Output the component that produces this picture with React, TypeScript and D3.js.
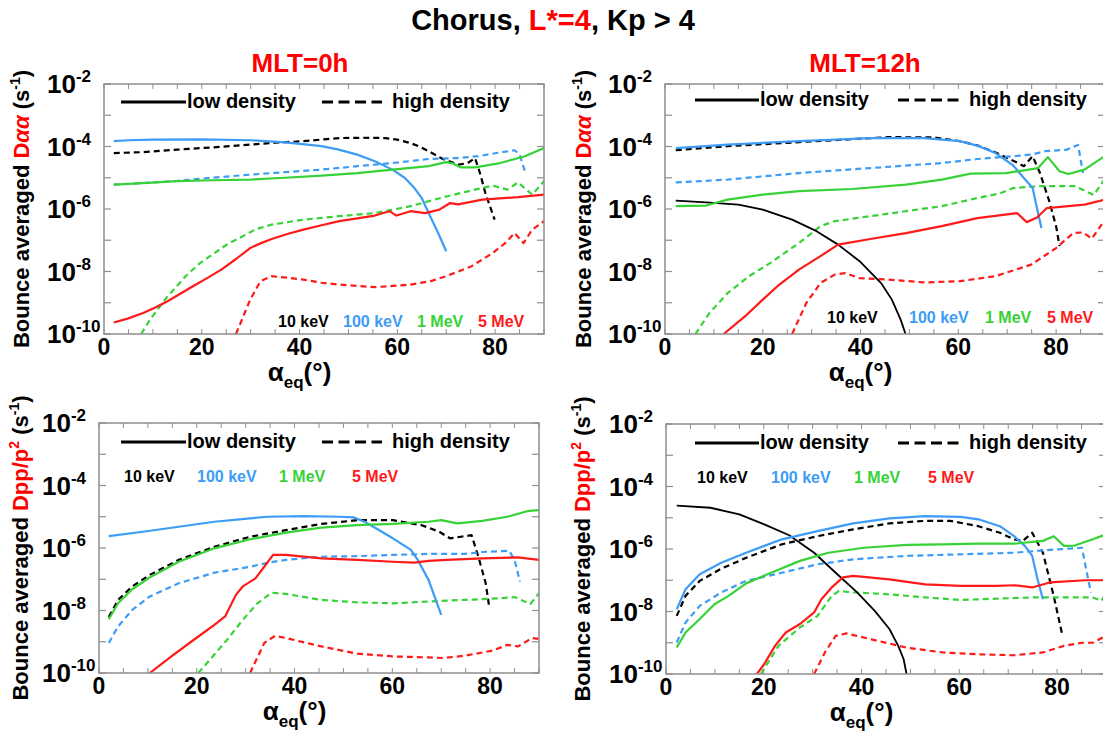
import React from "react";
import * as d3 from "d3";

// pitch angle ticks and log10 decade ticks
const xTicks = [0, 20, 40, 60, 80];
const xMinorTicks = d3.range(0, 91, 5);
const yLabelExp = [-2, -4, -6, -8, -10];
const yDecades = d3.range(-10, -1, 1);
const energies = ["10 keV", "100 keV", "1 MeV", "5 MeV"];
const energyColors = ["#000000", "#3d9cf5", "#37d237", "#ff1a1a"];

// each series: [alpha_eq (deg), log10 of bounce averaged coefficient (s^-1)]
// MLT = 0h, D_aa
const daa0BlueLow = [[2,-3.83],[5,-3.8],[10,-3.78],[20,-3.77],[30,-3.8],[37,-3.87],[41.6,-3.94],[44.5,-3.99],[48,-4.1],[51.8,-4.26],[55.4,-4.47],[59,-4.74],[61.5,-5.0],[63.5,-5.33],[65,-5.65],[66.4,-6.13],[68.3,-6.75],[70,-7.35]];
const daa0BlackHigh = [[2,-4.21],[8,-4.18],[15,-4.1],[22,-4.03],[29.9,-3.94],[35,-3.88],[40.8,-3.83],[45,-3.77],[48.1,-3.73],[53,-3.72],[57.6,-3.73],[60,-3.78],[62.7,-3.89],[64.5,-4.0],[66.4,-4.15],[69.3,-4.4],[72.6,-4.58],[74.4,-4.53],[75.9,-4.37],[77,-4.9],[78,-5.49],[79.9,-6.34]];
const daa0GreenLow = [[2,-5.22],[8,-5.17],[15,-5.11],[22,-5.08],[30,-5.06],[37,-5.0],[44.5,-4.93],[51.8,-4.85],[59,-4.74],[66.4,-4.63],[70,-4.5],[71.5,-4.55],[73,-4.67],[75.9,-4.67],[81,-4.53],[86.1,-4.31],[90,-4.05]];
const daa0BlueHigh = [[2,-5.22],[8,-5.17],[15,-5.1],[22,-5.0],[30,-4.9],[37,-4.82],[44.5,-4.74],[51.8,-4.63],[59,-4.53],[66.4,-4.4],[72.2,-4.37],[76.6,-4.31],[81,-4.19],[84,-4.12],[85,-4.26],[86.1,-4.79]];
const daa0GreenHigh = [[7.6,-10],[9.4,-9.54],[13,-8.8],[16.7,-8.15],[19.5,-7.75],[22.6,-7.41],[25.5,-7.1],[28.4,-6.87],[31,-6.65],[34.3,-6.5],[40.8,-6.34],[48.1,-6.23],[55.4,-6.13],[62.7,-5.91],[70,-5.6],[75.9,-5.38],[79.5,-5.25],[82.5,-5.38],[84.7,-5.15],[87.6,-5.54],[90,-5.11]];
const daa0RedLow = [[2,-9.63],[5,-9.5],[8,-9.33],[10.5,-9.15],[13,-8.95],[15.5,-8.72],[18.2,-8.47],[21,-8.22],[24,-7.94],[27,-7.6],[29.9,-7.25],[32,-7.1],[34.3,-6.96],[37.5,-6.8],[40.8,-6.66],[44.5,-6.52],[48.1,-6.39],[51.8,-6.3],[55.4,-6.21],[58.4,-6.07],[59.8,-6.21],[62.7,-6.07],[65.7,-6.13],[68.6,-6.02],[70.8,-5.81],[72.5,-5.85],[73.7,-5.81],[77.4,-5.7],[84.7,-5.62],[90,-5.54]];
const daa0RedHigh = [[27,-10],[29.9,-8.9],[32,-8.31],[34.3,-8.15],[37.5,-8.2],[40.8,-8.26],[44.5,-8.36],[48.1,-8.42],[55.4,-8.5],[62.7,-8.42],[67,-8.3],[70,-8.15],[75.2,-7.83],[79.5,-7.41],[82,-7.1],[84,-6.77],[85.8,-7.09],[87.6,-6.66],[90,-6.39]];

// MLT = 12h, D_aa
const daa12BlackLow = [[2.2,-5.73],[8.4,-5.79],[15,-5.86],[20,-6.02],[26,-6.34],[31,-6.71],[35.4,-7.14],[39.8,-7.67],[44.2,-8.37],[46.4,-8.9],[48.2,-9.54],[49.2,-10]];
const daa12BlueLow = [[2.2,-4.05],[12.8,-3.94],[27.4,-3.83],[42,-3.73],[53,-3.73],[60.3,-3.83],[64,-3.98],[67.6,-4.21],[71.2,-4.6],[73.4,-5.01],[75.2,-5.33],[76.3,-6.13],[77,-6.61]];
const daa12BlackHigh = [[2.2,-4.12],[12.8,-3.99],[27.4,-3.86],[45.7,-3.7],[55,-3.71],[60.3,-3.83],[64,-3.97],[67.6,-4.19],[72.2,-4.53],[73.4,-4.63],[75.2,-4.31],[76.7,-4.85],[78.5,-5.7],[80,-6.55],[80.7,-7.19]];
const daa12GreenLow = [[2.2,-5.91],[8.4,-5.89],[12.8,-5.7],[20,-5.54],[27.4,-5.43],[38.3,-5.36],[49.3,-5.22],[56.6,-5.06],[62.5,-4.87],[69.8,-4.85],[76.3,-4.69],[78.3,-4.34],[80.7,-4.79],[82.5,-4.88],[85.8,-4.74],[90,-4.3]];
const daa12BlueHigh = [[2.2,-5.15],[12.8,-5.06],[27.4,-4.85],[42,-4.69],[56.6,-4.53],[63.9,-4.4],[71.2,-4.31],[74.9,-4.26],[77.8,-4.15],[82.2,-4.1],[84.5,-3.95],[85.5,-4.85]];
const daa12GreenHigh = [[6.2,-10],[9.1,-9.33],[12.8,-8.69],[17.2,-8.15],[21.5,-7.73],[27.4,-7.09],[31.8,-6.55],[34.7,-6.39],[42,-6.23],[49.3,-6.07],[56.6,-5.91],[63.9,-5.65],[68.5,-5.5],[71.2,-5.33],[76.7,-5.27],[83.9,-5.27],[87.7,-5.55],[89.8,-5.07]];
const daa12RedLow = [[12,-10],[16.4,-9.43],[20,-8.9],[23,-8.47],[27.4,-7.94],[31.8,-7.51],[35.4,-7.14],[42,-6.96],[49.3,-6.77],[56.6,-6.55],[63.9,-6.29],[72,-6.13],[74,-6.42],[76.1,-6.27],[78.1,-5.97],[85.8,-5.86],[90,-5.7]];
const daa12RedHigh = [[26,-10],[28.9,-9.01],[31.8,-8.37],[34.7,-8.1],[36.9,-8.05],[39.8,-8.21],[45.7,-8.26],[53,-8.35],[60.3,-8.31],[67.6,-8.15],[74.9,-7.78],[80,-7.25],[83.5,-6.77],[85.5,-6.75],[87.3,-6.95],[90,-6.34]];

// MLT = 0h, D_pp/p^2
const dpp0BlueLow = [[2,-5.62],[9,-5.48],[16.3,-5.32],[23.6,-5.16],[30.9,-5.05],[34.5,-5.0],[41.9,-4.98],[49.2,-5.0],[52.1,-5.02],[54.3,-5.16],[57,-5.4],[60.1,-5.69],[63.8,-6.06],[65.2,-6.38],[67.4,-7.02],[70,-8.14]];
const dpp0BlackHigh = [[2,-8.21],[3.9,-7.66],[6.8,-7.23],[10.4,-6.86],[16.3,-6.38],[23.6,-5.96],[30.9,-5.64],[38.2,-5.43],[45.5,-5.23],[52.8,-5.11],[60.1,-5.11],[66,-5.27],[69.6,-5.48],[71.8,-5.69],[74,-5.64],[76.2,-5.59],[77.6,-6.28],[79.1,-7.13],[79.8,-7.87]];
const dpp0GreenLow = [[2,-8.28],[3.9,-7.77],[6.8,-7.32],[10.4,-6.94],[16.3,-6.44],[23.6,-6.01],[30.9,-5.72],[38.2,-5.51],[45.5,-5.35],[52.8,-5.27],[60.1,-5.23],[67.4,-5.16],[70,-5.11],[73.3,-5.21],[78.4,-5.13],[83.5,-5.0],[87.9,-4.81],[90,-4.79]];
const dpp0BlueHigh = [[2,-9.04],[3.9,-8.51],[6.8,-7.98],[10.4,-7.55],[16.3,-7.13],[23.6,-6.79],[30.9,-6.6],[34.5,-6.47],[38.2,-6.38],[45.5,-6.28],[52.8,-6.26],[60.1,-6.22],[67.4,-6.19],[74.7,-6.19],[79.1,-6.12],[83.9,-6.09],[85,-6.38],[86.1,-7.07]];
const dpp0RedLow = [[10.4,-10],[14.8,-9.47],[19.9,-8.88],[23.6,-8.46],[25.8,-8.19],[28,-7.5],[29.4,-7.23],[32,-6.97],[33.8,-6.6],[35.6,-6.22],[38.2,-6.22],[45.5,-6.33],[52.8,-6.38],[60.1,-6.44],[64.5,-6.47],[67.4,-6.41],[71.1,-6.38],[78.4,-6.33],[85.7,-6.3],[90,-6.38]];
const dpp0GreenHigh = [[20.3,-10],[23.6,-9.41],[26.5,-8.88],[29.4,-8.3],[32.4,-7.77],[35.3,-7.43],[38.2,-7.47],[45.5,-7.66],[52.8,-7.74],[60.1,-7.77],[67.4,-7.71],[74.7,-7.66],[82,-7.61],[85,-7.57],[88.2,-7.79],[90,-7.45]];
const dpp0RedHigh = [[30.9,-10],[33.8,-9.04],[36,-8.81],[38.2,-8.88],[45.5,-9.15],[52.8,-9.38],[60.1,-9.47],[67.4,-9.5],[70.3,-9.52],[74.7,-9.45],[80.6,-9.28],[83.5,-9.1],[85.7,-9.15],[88.6,-8.88],[90,-8.91]];

// MLT = 12h, D_pp/p^2
const dpp12BlackLow = [[2.2,-4.61],[9.1,-4.68],[15,-4.89],[20.1,-5.21],[25.2,-5.56],[30.3,-6.12],[34.7,-6.76],[39.1,-7.39],[42.7,-7.98],[45.7,-8.56],[47.5,-9.1],[48.6,-9.52],[49.2,-10]];
const dpp12BlueLow = [[2.2,-7.93],[4,-7.29],[6.9,-6.81],[11.3,-6.44],[16.4,-6.12],[23.7,-5.69],[31,-5.43],[38.3,-5.18],[45.7,-5.02],[53,-4.95],[60.3,-4.97],[63.9,-5.05],[68.3,-5.27],[71.2,-5.59],[73.4,-5.9],[74.9,-6.22],[76,-6.97],[77.1,-7.61]];
const dpp12BlackHigh = [[2.2,-8.14],[4,-7.5],[6.9,-7.02],[11.3,-6.63],[16.4,-6.28],[23.7,-5.85],[31,-5.59],[38.3,-5.37],[45.7,-5.18],[53,-5.1],[58.1,-5.1],[63.9,-5.27],[68.3,-5.48],[71.2,-5.69],[73,-5.74],[74.9,-5.48],[77.1,-6.12],[79.3,-7.5],[81.1,-8.78]];
const dpp12GreenLow = [[2.2,-9.15],[4,-8.67],[6.9,-8.24],[9.9,-7.77],[12.8,-7.5],[16.4,-7.1],[21.5,-6.76],[27.4,-6.38],[33.2,-6.12],[40.5,-5.96],[49.3,-5.87],[56.6,-5.85],[63.9,-5.83],[71.2,-5.83],[77.1,-5.74],[79.3,-5.59],[81.4,-5.9],[83.6,-5.89],[87.3,-5.69],[90,-5.53]];
const dpp12BlueHigh = [[2.2,-8.99],[4,-8.35],[6.9,-7.82],[11.3,-7.39],[16.4,-7.02],[23.7,-6.76],[31,-6.49],[38.3,-6.33],[49.3,-6.22],[60.3,-6.17],[71.2,-6.12],[78.5,-6.03],[85.1,-5.96],[85.8,-6.54],[86.9,-7.39]];
const dpp12RedLow = [[18.6,-10],[20.1,-9.68],[22.3,-9.1],[24.5,-8.67],[27.4,-8.4],[30.3,-8.03],[31.8,-7.61],[33.9,-7.23],[36.2,-6.91],[38.3,-6.86],[45.7,-6.97],[53,-7.13],[60.3,-7.18],[67.6,-7.18],[71.2,-7.16],[74.9,-7.23],[78.5,-7.07],[85.8,-7.0],[90,-7.0]];
const dpp12GreenHigh = [[19.4,-10],[23,-9.1],[27.4,-8.51],[31,-8.14],[33.9,-7.5],[35.4,-7.34],[38.3,-7.39],[45.7,-7.45],[53,-7.55],[60.3,-7.63],[67.6,-7.59],[74.9,-7.55],[82.2,-7.55],[87.3,-7.55],[89.1,-7.66],[90,-7.39]];
const dpp12RedHigh = [[30.3,-10],[32.5,-9.31],[34.7,-8.78],[36.9,-8.7],[42,-8.89],[49.3,-9.16],[56.6,-9.31],[63.9,-9.37],[71.2,-9.4],[77.1,-9.31],[81.4,-9.1],[85.1,-9.0],[87.3,-9.0],[90,-8.78]];

const FONT = "'Liberation Sans', Arial, Helvetica, sans-serif";
const GRAY = "#8e8e8e";
const W = 440;
const H = 250;

// color index into energyColors, dashed = high density
const panels = [
  {
    id: "p1", left: 104, top: 84, kind: "daa", mlt: "MLT=0h", mltX: 300,
    ytitleX: 29,
    legend: { solid: [17, 82], dashed: [218, 278], lineDy: 18 },
    energyX: [174, 239, 313, 374], energyDy: 243,
    curves: [
      { d: daa0BlackHigh, c: 0, dash: true },
      { d: daa0BlueHigh, c: 1, dash: true },
      { d: daa0GreenHigh, c: 2, dash: true },
      { d: daa0RedHigh, c: 3, dash: true },
      { d: daa0BlueLow, c: 1, dash: false },
      { d: daa0GreenLow, c: 2, dash: false },
      { d: daa0RedLow, c: 3, dash: false },
    ],
  },
  {
    id: "p2", left: 665, top: 84, kind: "daa", mlt: "MLT=12h", mltX: 865,
    ytitleX: 591,
    legend: { solid: [30, 94], dashed: [233, 294], lineDy: 16 },
    energyX: [162, 244, 320, 382], energyDy: 239,
    curves: [
      { d: daa12BlackHigh, c: 0, dash: true },
      { d: daa12BlueHigh, c: 1, dash: true },
      { d: daa12GreenHigh, c: 2, dash: true },
      { d: daa12RedHigh, c: 3, dash: true },
      { d: daa12BlackLow, c: 0, dash: false },
      { d: daa12BlueLow, c: 1, dash: false },
      { d: daa12GreenLow, c: 2, dash: false },
      { d: daa12RedLow, c: 3, dash: false },
    ],
  },
  {
    id: "p3", left: 99, top: 423, kind: "dpp", mlt: null, mltX: 0,
    ytitleX: 28,
    legend: { solid: [22, 87], dashed: [223, 283], lineDy: 19 },
    energyX: [25, 98, 180, 253], energyDy: 59,
    curves: [
      { d: dpp0BlackHigh, c: 0, dash: true },
      { d: dpp0BlueHigh, c: 1, dash: true },
      { d: dpp0GreenHigh, c: 2, dash: true },
      { d: dpp0RedHigh, c: 3, dash: true },
      { d: dpp0BlueLow, c: 1, dash: false },
      { d: dpp0GreenLow, c: 2, dash: false },
      { d: dpp0RedLow, c: 3, dash: false },
    ],
  },
  {
    id: "p4", left: 666, top: 424, kind: "dpp", mlt: null, mltX: 0,
    ytitleX: 590,
    legend: { solid: [29, 93], dashed: [232, 293], lineDy: 19 },
    energyX: [31, 105, 188, 262], energyDy: 59,
    curves: [
      { d: dpp12BlackHigh, c: 0, dash: true },
      { d: dpp12BlueHigh, c: 1, dash: true },
      { d: dpp12GreenHigh, c: 2, dash: true },
      { d: dpp12RedHigh, c: 3, dash: true },
      { d: dpp12BlackLow, c: 0, dash: false },
      { d: dpp12BlueLow, c: 1, dash: false },
      { d: dpp12GreenLow, c: 2, dash: false },
      { d: dpp12RedLow, c: 3, dash: false },
    ],
  },
];

function Panel({ p }: { p: any }) {
  const x = d3.scaleLinear().domain([0, 90]).range([0, W]);
  const y = d3.scaleLog().domain([1e-10, 1e-2]).range([H, 0]);
  const line = d3
    .line<number[]>()
    .x((d) => x(d[0]))
    .y((d) => y(Math.pow(10, d[1])));

  const yMid = p.top + H / 2;
  return (
    <g>
      {p.mlt && (
        <text x={p.mltX} y={72} textAnchor="middle" fontSize={26} fontWeight="bold" fill="#ff0000">
          {p.mlt}
        </text>
      )}
      {/* y axis title */}
      <text
        transform={`translate(${p.ytitleX},${yMid}) rotate(-90)`}
        textAnchor="middle"
        fontSize={22}
        fontWeight="bold"
        fill="#000"
      >
        <tspan>Bounce averaged </tspan>
        {p.kind === "daa" ? (
          <>
            <tspan fill="#ff0000">D</tspan>
            <tspan fill="#ff0000" fontStyle="italic">αα</tspan>
          </>
        ) : (
          <>
            <tspan fill="#ff0000">Dpp/p</tspan>
            <tspan fill="#ff0000" fontSize={14} dy={-9}>2</tspan>
            <tspan dy={9}> </tspan>
          </>
        )}
        <tspan>{p.kind === "daa" ? " (s" : "(s"}</tspan>
        <tspan fontSize={14} dy={-9}>-1</tspan>
        <tspan dy={9}>)</tspan>
      </text>

      <g transform={`translate(${p.left},${p.top})`}>
        <defs>
          <clipPath id={`clip-${p.id}`}>
            <rect x={0} y={0} width={W} height={H} />
          </clipPath>
        </defs>

        {/* ticks */}
        {xMinorTicks.map((t) => (
          <g key={`xt${t}`} stroke={GRAY} strokeWidth={1}>
            <line x1={x(t)} x2={x(t)} y1={H} y2={H - 5} />
            <line x1={x(t)} x2={x(t)} y1={0} y2={5} />
          </g>
        ))}
        {yDecades.map((e) => (
          <g key={`yt${e}`} stroke={GRAY} strokeWidth={1.2}>
            <line x1={0} x2={7} y1={y(Math.pow(10, e))} y2={y(Math.pow(10, e))} />
            <line x1={W} x2={W - 7} y1={y(Math.pow(10, e))} y2={y(Math.pow(10, e))} />
          </g>
        ))}

        {/* curves */}
        <g clipPath={`url(#clip-${p.id})`}>
          {p.curves.map((cv: any, i: number) => (
            <path
              key={i}
              d={line(cv.d) || ""}
              fill="none"
              stroke={energyColors[cv.c]}
              strokeWidth={cv.c === 0 && !cv.dash ? 1.8 : 2.2}
              strokeDasharray={cv.dash ? "6,4" : undefined}
              strokeLinejoin="round"
            />
          ))}
        </g>

        <rect x={0} y={0} width={W} height={H} fill="none" stroke={GRAY} strokeWidth={1.5} />

        {/* density legend */}
        <line x1={p.legend.solid[0]} x2={p.legend.solid[1]} y1={p.legend.lineDy} y2={p.legend.lineDy} stroke="#000" strokeWidth={3} />
        <text x={p.legend.solid[1] + 1} y={p.legend.lineDy + 6} fontSize={20} fontWeight="bold" fill="#000">
          low density
        </text>
        <line x1={p.legend.dashed[0]} x2={p.legend.dashed[1]} y1={p.legend.lineDy} y2={p.legend.lineDy} stroke="#000" strokeWidth={3} strokeDasharray="11,5.5" />
        <text x={p.legend.dashed[1] + 10} y={p.legend.lineDy + 6} fontSize={20} fontWeight="bold" fill="#000">
          high density
        </text>

        {/* energy legend */}
        {energies.map((e, i) => (
          <text key={e} x={p.energyX[i]} y={p.energyDy} fontSize={16} fontWeight="bold" fill={energyColors[i]}>
            {e}
          </text>
        ))}

        {/* y tick labels */}
        {yLabelExp.map((e) => (
          <text key={`yl${e}`} x={-57} y={y(Math.pow(10, e)) + 9} fontSize={26} fontWeight="bold" fill="#000">
            10
            <tspan fontSize={17} dy={-11}>{e}</tspan>
          </text>
        ))}

        {/* x tick labels */}
        {xTicks.map((t) => (
          <text key={`xl${t}`} x={x(t)} y={H + 21} textAnchor="middle" fontSize={23} fontWeight="bold" fill="#000">
            {t}
          </text>
        ))}

        {/* x axis title */}
        <text x={x(40)} y={H + 47} textAnchor="middle" fontSize={26} fontWeight="bold" fill="#000">
          α
          <tspan fontSize={17} dy={7}>eq</tspan>
          <tspan dy={-7}>(°)</tspan>
        </text>
      </g>
    </g>
  );
}

export default function App() {
  return (
    <svg
      width={1103}
      height={734}
      style={{ position: "absolute", left: 0, top: 0, background: "#fff" }}
      fontFamily={FONT}
    >
      <rect x={0} y={0} width={1103} height={734} fill="#fff" />
      <text x={553} y={30} textAnchor="middle" fontSize={29} fontWeight="bold" fill="#000">
        Chorus, <tspan fill="#ff0000">L*=4</tspan>, Kp &gt; 4
      </text>
      {panels.map((p) => (
        <Panel key={p.id} p={p} />
      ))}
    </svg>
  );
}
